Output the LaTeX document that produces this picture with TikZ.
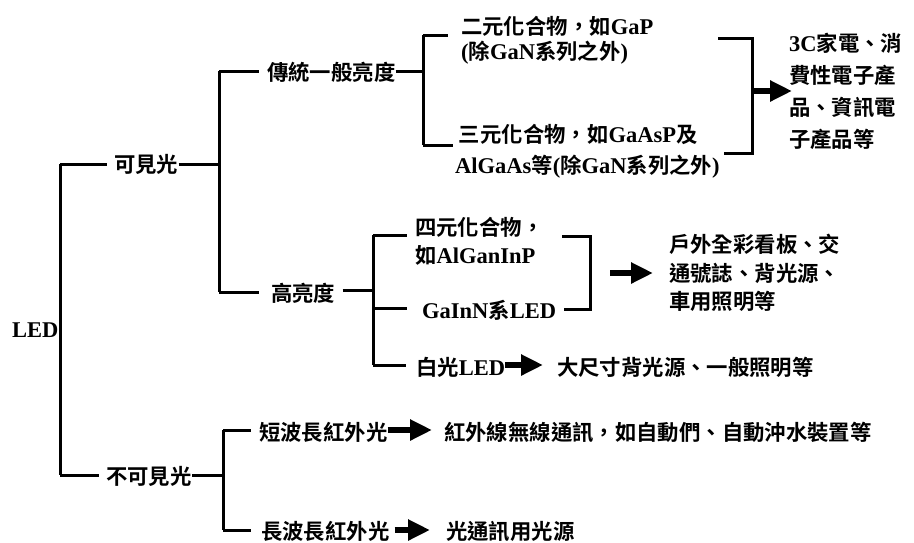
\documentclass[tikz,border=0pt]{standalone}
\usepackage{fontspec}
\setmainfont{Liberation Serif}
\newfontfamily\cjkf{Noto Sans CJK TC}[Scale=0.95,BoldFont={Noto Sans CJK TC Bold}]
\newcommand\zht[1]{{\cjkf\bfseries #1}}
\usetikzlibrary{arrows.meta}
\begin{document}
\begin{tikzpicture}[x=1pt,y=-1pt,
 txt/.style={font=\fontsize{22.5}{25}\selectfont\bfseries, inner sep=0pt, anchor=west, align=left},
 ln/.style={line width=3pt},
 arr/.style={line width=6pt,-{Triangle[length=22pt,width=20pt]}},
]
\useasboundingbox (0,0) rectangle (914,542);
% nodes
\node[txt] (led) at (12,330) {LED};
\node[txt] (vis) at (114,164) {\zht{可見光}};
\node[txt] (invis) at (106,476) {\zht{不可見光}};
\node[txt] (trad) at (267,72) {\zht{傳統一般亮度}};
\node[txt] (high) at (271,293) {\zht{高亮度}};
\node[txt,font=\fontsize{22.5}{25}\selectfont\bfseries] (bin) at (461,40.5) {\zht{二元化合物，如}GaP\\(\zht{除}GaN\zht{系列之外})};
\node[txt,font=\fontsize{22.5}{31}\selectfont\bfseries] (ter) at (455,151.5) {\,\zht{三元化合物，如}GaAsP\zht{及}\\AlGaAs\zht{等}(\zht{除}GaN\zht{系列之外})};
\node[txt,font=\fontsize{22.5}{32}\selectfont\bfseries] (app1) at (789,91) {3C\zht{家電、消}\\\zht{費性電子產}\\\zht{品、資訊電}\\\zht{子產品等}};
\node[txt,font=\fontsize{22.5}{28}\selectfont\bfseries] (quad) at (415,241) {\zht{四元化合物，}\\\zht{如}AlGanInP};
\node[txt] (gainn) at (422,310) {GaInN\zht{系}LED};
\node[txt] (white) at (416,367) {\zht{白光}LED};
\node[txt,font=\fontsize{22.5}{28.5}\selectfont\bfseries] (app2) at (669,273) {\zht{戶外全彩看板、交}\\\zht{通號誌、背光源、}\\\zht{車用照明等}};
\node[txt] (app3) at (557,367) {\zht{大尺寸背光源、一般照明等}};
\node[txt] (sw) at (259,432) {\zht{短波長紅外光}};
\node[txt] (app4) at (444,432) {\zht{紅外線無線通訊，如自動們、自動沖水裝置等}};
\node[txt] (lw) at (261,531) {\zht{長波長紅外光}};
\node[txt] (app5) at (446,531) {\zht{光通訊用光源}};
% junction coordinates
\coordinate (j0t) at (60,164);
\coordinate (j0b) at (60,475);
\coordinate (j1) at (219,164);
\coordinate (j1t) at (219,71);
\coordinate (j1b) at (219,292);
\coordinate (j2) at (423,71);
\coordinate (j2t) at (423,35);
\coordinate (j2b) at (423,145);
\coordinate (b2t) at (448,35);
\coordinate (b2b) at (453,145);
\coordinate (r1tl) at (718,38);
\coordinate (r1t) at (752,38);
\coordinate (r1b) at (752,153);
\coordinate (r1bl) at (724,153);
\coordinate (r1m) at (752,91);
\coordinate (j3) at (373,290);
\coordinate (j3t) at (373,235);
\coordinate (j3m) at (373,308);
\coordinate (j3b) at (373,365);
\coordinate (b3t) at (407,235);
\coordinate (r2tl) at (562,236);
\coordinate (r2t) at (590,236);
\coordinate (r2b) at (590,309);
\coordinate (a2s) at (610,273);
\coordinate (a2e) at (653,273);
\coordinate (j4) at (223,475);
\coordinate (j4t) at (223,430);
\coordinate (j4b) at (223,530);
% connectors
\draw[ln] (j0t) -- (j0b);
\draw[ln] (j0t) -- ([xshift=-7pt]vis.west |- j0t);
\draw[ln] (j0b) -- ([xshift=-7pt]invis.west |- j0b);
\draw[ln] (vis.east |- j1) -- (j1);
\draw[ln] (j1t) -- (j1b);
\draw[ln] (j1t) -- ([xshift=-8pt]trad.west |- j1t);
\draw[ln] (j1b) -- ([xshift=-12pt]high.west |- j1b);
\draw[ln] (trad.east |- j2) -- (j2);
\draw[ln] (j2t) -- (j2b);
\draw[ln] (j2t) -- (b2t);
\draw[ln] (j2b) -- (b2b);
\draw[ln] (r1tl) -- (r1t) -- (r1b) -- (r1bl);
\draw[arr] (r1m) -- ([xshift=3pt]app1.west |- r1m);
\draw[ln] ([xshift=7pt]high.east |- j3) -- (j3);
\draw[ln] (j3t) -- (j3b);
\draw[ln] (j3t) -- (b3t);
\draw[ln] (j3m) -- ([xshift=-15pt]gainn.west |- j3m);
\draw[ln] (j3b) -- ([xshift=-10pt]white.west |- j3b);
\draw[ln] (r2tl) -- (r2t) -- (r2b) -- ([xshift=8pt]gainn.east |- r2b);
\draw[arr] (a2s) -- (a2e);
\draw[arr] (white.east |- j3b) -- ([xshift=-14pt]app3.west |- j3b);
\draw[ln] (invis.east |- j4) -- (j4);
\draw[ln] (j4t) -- (j4b);
\draw[ln] (j4t) -- ([xshift=-8pt]sw.west |- j4t);
\draw[ln] (j4b) -- ([xshift=-10pt]lw.west |- j4b);
\draw[arr] (sw.east |- j4t) -- ([xshift=-12pt]app4.west |- j4t);
\draw[arr] ([xshift=5pt]lw.east |- j4b) -- ([xshift=-16pt]app5.west |- j4b);
\end{tikzpicture}
\end{document}
